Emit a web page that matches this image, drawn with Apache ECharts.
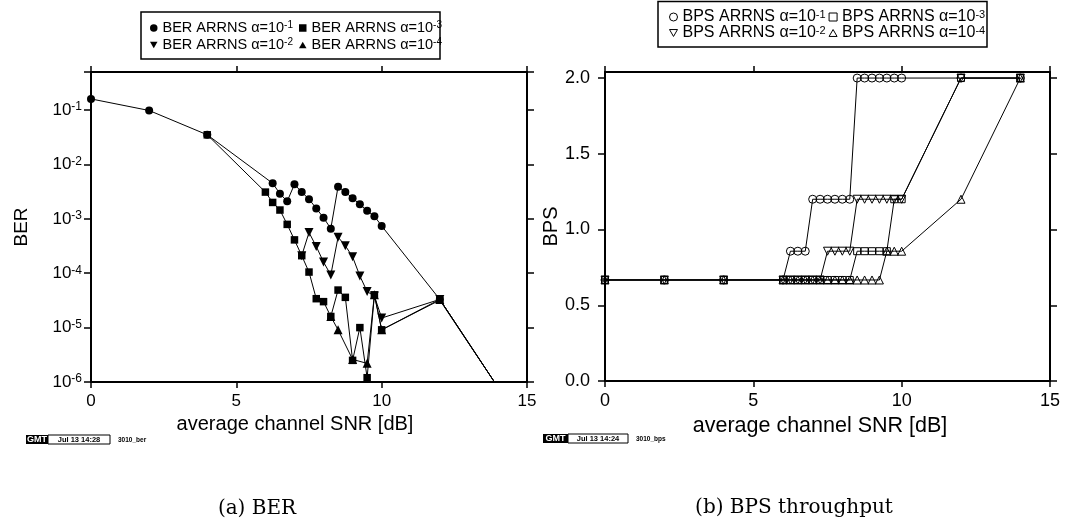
<!DOCTYPE html>
<html><head><meta charset="utf-8">
<script src="https://cdn.jsdelivr.net/npm/echarts@6/dist/echarts.min.js"></script>
<style>html,body{margin:0;padding:0;background:#fff}#c{width:1066px;height:522px}</style>
</head><body><div id="c"></div>
<script>
// ---------------- data ----------------
// (a) BER versus average channel SNR [dB]
const berA1X = [0, 2, 4, 6.25, 6.5, 6.75, 7, 7.25, 7.5, 7.75, 8, 8.25, 8.5, 8.75, 9, 9.25, 9.5, 9.75, 10, 12, 14];
const berA1Y = [0.16, 0.098, 0.035, 4.5e-3, 2.9e-3, 2.1e-3, 4.3e-3, 3.1e-3, 2.3e-3, 1.55e-3, 1.05e-3, 6.6e-4, 3.9e-3, 3.1e-3, 2.4e-3, 1.85e-3, 1.4e-3, 1.12e-3, 7.4e-4, 3.3e-5, 8e-7];
const berA3X = [4, 6, 6.25, 6.5, 6.75, 7, 7.25, 7.5, 7.75, 8, 8.25, 8.5, 8.75, 9, 9.25, 9.5, 9.75, 10, 12, 14];
const berA3Y = [0.035, 3.1e-3, 2.0e-3, 1.45e-3, 7.9e-4, 4.1e-4, 2.1e-4, 1.05e-4, 3.4e-5, 3.0e-5, 1.6e-5, 4.9e-5, 3.6e-5, 2.5e-6, 1.0e-5, 1.2e-6, 4.0e-5, 9.1e-6, 3.2e-5, 8e-7];
const berA2X = [7.25, 7.5, 7.75, 8, 8.25, 8.5, 8.75, 9, 9.25, 9.5, 9.75, 10, 12, 14];
const berA2Y = [2.1e-4, 5.6e-4, 3.1e-4, 1.6e-4, 9.3e-5, 4.6e-4, 3.2e-4, 2.0e-4, 8.9e-5, 4.6e-5, 3.8e-5, 1.5e-5, 3.3e-5, 8e-7];
const berA4X = [8.25, 8.5, 9, 9.5, 9.75, 10, 12, 14];
const berA4Y = [1.6e-5, 9.1e-6, 2.6e-6, 2.2e-6, 4.0e-5, 9.1e-6, 3.3e-5, 8e-7];

// (b) BPS throughput versus average channel SNR [dB]
const bpsX = [0, 2, 4, 6, 6.25, 6.5, 6.75, 7, 7.25, 7.5, 7.75, 8, 8.25, 8.5, 8.75, 9, 9.25, 9.5, 9.75, 10, 12, 14];
const bpsA1 = [0.667, 0.667, 0.667, 0.667, 0.857, 0.857, 0.857, 1.2, 1.2, 1.2, 1.2, 1.2, 1.2, 2.0, 2.0, 2.0, 2.0, 2.0, 2.0, 2.0, 2.0, 2.0];
const bpsA2 = [0.667, 0.667, 0.667, 0.667, 0.667, 0.667, 0.667, 0.667, 0.667, 0.857, 0.857, 0.857, 0.857, 1.2, 1.2, 1.2, 1.2, 1.2, 1.2, 1.2, 2.0, 2.0];
const bpsA3 = [0.667, 0.667, 0.667, 0.667, 0.667, 0.667, 0.667, 0.667, 0.667, 0.667, 0.667, 0.667, 0.667, 0.857, 0.857, 0.857, 0.857, 0.857, 1.2, 1.2, 2.0, 2.0];
const bpsA4 = [0.667, 0.667, 0.667, 0.667, 0.667, 0.667, 0.667, 0.667, 0.667, 0.667, 0.667, 0.667, 0.667, 0.667, 0.667, 0.667, 0.667, 0.857, 0.857, 0.857, 1.2, 2.0];

const berNames = ['BER ARRNS α=10-1', 'BER ARRNS α=10-2', 'BER ARRNS α=10-3', 'BER ARRNS α=10-4'];
const bpsNames = ['BPS ARRNS α=10-1', 'BPS ARRNS α=10-2', 'BPS ARRNS α=10-3', 'BPS ARRNS α=10-4'];
const xTicks = [0, 5, 10, 15];
const berTicks = [1e-6, 1e-5, 1e-4, 1e-3, 1e-2, 1e-1];
const bpsTicks = [0, 0.5, 1.0, 1.5, 2.0];
const xTitle = 'average channel SNR [dB]';
const captions = ['(a) BER', '(b) BPS throughput'];
const stamps = [['GMT', 'Jul 13 14:28', '3010_ber'], ['GMT', 'Jul 13 14:24', '3010_bps']];

// ---------------- chart ----------------
const FONT = '"Liberation Sans", Arial, Helvetica, sans-serif';
const SERIF = '"DejaVu Serif", "Liberation Serif", serif';
const TRI_DOWN = 'path://M0,0L10,0L5,8.66Z';
const TRI_UP = 'path://M5,0L10,8.66L0,8.66Z';

function supFmt(s) {
  const m = /^(.*10)(-\d)$/.exec(s);
  return m ? '{n|' + m[1] + '}{s|' + m[2] + '}' : s;
}
function rich(fs, lh, sfs, slh) {
  return {
    n: { fontSize: fs, lineHeight: lh, fontFamily: FONT, color: '#000' },
    s: { fontSize: sfs, lineHeight: slh, verticalAlign: 'top', fontFamily: FONT, color: '#000' }
  };
}
const frameLine = { show: true, onZero: false, lineStyle: { color: '#000', width: 2 } };
function ticks(len, custom) {
  const t = { show: true, inside: false, length: len, lineStyle: { color: '#000', width: 1.5 } };
  if (custom) t.customValues = custom;
  return t;
}

function xAxisPair(grid, fs, titleFs, pad) {
  return [
    { gridIndex: grid, type: 'value', position: 'bottom', min: xTicks[0], max: xTicks[xTicks.length - 1], interval: 5,
      axisLine: frameLine, axisTick: ticks(6), splitLine: { show: false },
      axisLabel: { show: true, fontSize: fs, fontFamily: FONT, color: '#000', margin: 11 },
      name: xTitle, nameLocation: 'middle', nameGap: 32,
      nameTextStyle: { fontSize: titleFs, fontFamily: FONT, color: '#000', padding: [0, pad, 0, 0] } },
    { gridIndex: grid, type: 'value', position: 'top', min: xTicks[0], max: xTicks[xTicks.length - 1], interval: 5,
      axisLine: frameLine, axisTick: ticks(6), splitLine: { show: false }, axisLabel: { show: false } }
  ];
}

function logLabel(v) {
  const e = Math.log10(v);
  const r = Math.round(e);
  if (Math.abs(e - r) > 1e-6) return '';
  return '{n|10}{s|' + r + '}';
}
function bpsLabel(v) {
  const k = v / 0.5;
  if (Math.abs(k - Math.round(k)) > 1e-6) return '';
  return v.toFixed(1);
}

const yAxes = [
  { gridIndex: 0, type: 'log', logBase: 10, min: 1e-6, max: 0.5, position: 'left',
    axisLine: frameLine, axisTick: ticks(7), splitLine: { show: false }, minorTick: { show: false },
    axisLabel: { formatter: logLabel, margin: 9, rich: rich(17, 18, 12, 9) },
    name: 'BER', nameLocation: 'middle', nameRotate: 90, nameGap: 60,
    nameTextStyle: { fontSize: 19, fontFamily: FONT, color: '#000' } },
  { gridIndex: 0, type: 'log', logBase: 10, min: 1e-6, max: 0.5, position: 'right',
    axisLine: frameLine, axisTick: ticks(7), splitLine: { show: false }, minorTick: { show: false },
    axisLabel: { show: false } },
  { gridIndex: 1, type: 'value', min: 0, max: 2.04, interval: 0.5, position: 'left',
    axisLine: frameLine, axisTick: ticks(7, bpsTicks), splitLine: { show: false },
    axisLabel: { formatter: bpsLabel, customValues: bpsTicks, margin: 15, fontSize: 18, fontFamily: FONT, color: '#000' },
    name: 'BPS', nameLocation: 'middle', nameRotate: 90, nameGap: 34,
    nameTextStyle: { fontSize: 20, fontFamily: FONT, color: '#000' } },
  { gridIndex: 1, type: 'value', min: 0, max: 2.04, interval: 0.5, position: 'right',
    axisLine: frameLine, axisTick: ticks(7, bpsTicks), splitLine: { show: false }, axisLabel: { show: false } }
];

function pairs(xs, ys) { return xs.map((x, i) => [x, ys[i]]); }
function berSeries(name, xs, ys, symbol, size, rotate, z) {
  return { type: 'line', name, xAxisIndex: 0, yAxisIndex: 0, data: pairs(xs, ys),
    symbol, symbolSize: size, symbolRotate: rotate, showSymbol: true, showAllSymbol: true, clip: true,
    lineStyle: { color: '#000', width: 1 }, itemStyle: { color: '#000', borderWidth: 0 },
    emphasis: { disabled: true }, z };
}
const hollow = { color: 'rgba(0,0,0,0)', borderColor: '#000', borderWidth: 1 };
function bpsSeries(name, ys, symbol, size, rotate, z) {
  return { type: 'line', name, xAxisIndex: 2, yAxisIndex: 2, data: pairs(bpsX, ys),
    symbol, symbolSize: size, symbolRotate: rotate, showSymbol: true, showAllSymbol: true, clip: true,
    lineStyle: { color: '#000', width: 1 }, itemStyle: hollow,
    emphasis: { disabled: true }, z };
}

const filled = { color: '#000', borderWidth: 0 };
function legendRow(left, top, items, fs, gap, icon) {
  return { show: true, orient: 'horizontal', left, top, padding: 0, itemGap: gap,
    itemWidth: icon, itemHeight: icon, selectedMode: false, data: items,
    formatter: supFmt, textStyle: { color: '#000', fontFamily: FONT, fontSize: fs, rich: rich(fs, 16, Math.round(fs * 0.66), 9) } };
}

function stamp(x, y, t, gmtW, boxW) {
  return [
    { type: 'rect', shape: { x, y, width: gmtW, height: 9 }, style: { fill: '#000' } },
    { type: 'text', x: x + gmtW / 2, y: y + 4.8, style: { text: t[0], fill: '#fff', font: 'bold 9px ' + FONT, align: 'center', verticalAlign: 'middle' } },
    { type: 'rect', shape: { x: x + gmtW, y, width: boxW, height: 9 }, style: { fill: '#fff', stroke: '#000', lineWidth: 1 } },
    { type: 'text', x: x + gmtW + boxW / 2, y: y + 4.8, style: { text: t[1], fill: '#000', font: 'bold 7.5px ' + FONT, align: 'center', verticalAlign: 'middle' } },
    { type: 'text', x: x + gmtW + boxW + 8, y: y + 4.8, style: { text: t[2], fill: '#000', font: 'bold 6.5px ' + FONT, align: 'left', verticalAlign: 'middle' } }
  ];
}

const option = {
  animation: false,
  backgroundColor: '#fff',
  textStyle: { fontFamily: FONT, color: '#000' },
  grid: [
    { left: 91, top: 72, width: 436, height: 310, outerBoundsMode: 'none', containLabel: false },
    { left: 605, top: 72, width: 445, height: 309, outerBoundsMode: 'none', containLabel: false }
  ],
  xAxis: xAxisPair(0, 17, 20, 28).concat(xAxisPair(1, 18, 21.5, 15)),
  yAxis: yAxes,
  legend: [
    legendRow(150, 20, [
      { name: berNames[0], icon: 'circle', itemStyle: filled },
      { name: berNames[2], icon: 'rect', itemStyle: filled }], 14.5, 6, 7.5),
    legendRow(150, 37, [
      { name: berNames[1], icon: TRI_DOWN, itemStyle: filled },
      { name: berNames[3], icon: TRI_UP, itemStyle: filled }], 14.5, 6, 7.5),
    legendRow(669, 9, [
      { name: bpsNames[0], icon: 'circle', itemStyle: hollow },
      { name: bpsNames[2], icon: 'rect', itemStyle: hollow }], 16, 3, 8),
    legendRow(669, 25, [
      { name: bpsNames[1], icon: TRI_DOWN, itemStyle: hollow },
      { name: bpsNames[3], icon: TRI_UP, itemStyle: hollow }], 16, 3, 8)
  ],
  series: [
    berSeries(berNames[3], berA4X, berA4Y, 'triangle', 9, 0, 2),
    berSeries(berNames[1], berA2X, berA2Y, 'triangle', 9, 180, 3),
    berSeries(berNames[2], berA3X, berA3Y, 'rect', 7.5, 0, 4),
    berSeries(berNames[0], berA1X, berA1Y, 'circle', 8, 0, 5),
    bpsSeries(bpsNames[0], bpsA1, 'circle', 8, 0, 2),
    bpsSeries(bpsNames[1], bpsA2, 'triangle', 8, 180, 3),
    bpsSeries(bpsNames[2], bpsA3, 'rect', 7, 0, 4),
    bpsSeries(bpsNames[3], bpsA4, 'triangle', 8, 0, 5)
  ],
  graphic: [
    { type: 'rect', shape: { x: 141, y: 12, width: 299, height: 47 }, style: { fill: 'none', stroke: '#000', lineWidth: 1.5 } },
    { type: 'rect', shape: { x: 658, y: 1.5, width: 329, height: 45.5 }, style: { fill: 'none', stroke: '#000', lineWidth: 1.5 } },
    { type: 'text', x: 257, y: 509, style: { text: captions[0], fill: '#000', font: '20px ' + SERIF, align: 'center', verticalAlign: 'middle' } },
    { type: 'text', x: 794, y: 508, style: { text: captions[1], fill: '#000', font: '20px ' + SERIF, align: 'center', verticalAlign: 'middle' } }
  ].concat(stamp(26, 435, stamps[0], 22, 62)).concat(stamp(543, 434, stamps[1], 25, 60))
};

const chart = echarts.init(document.getElementById('c'), null, { renderer: 'canvas' });
chart.setOption(option);
</script>
</body></html>
